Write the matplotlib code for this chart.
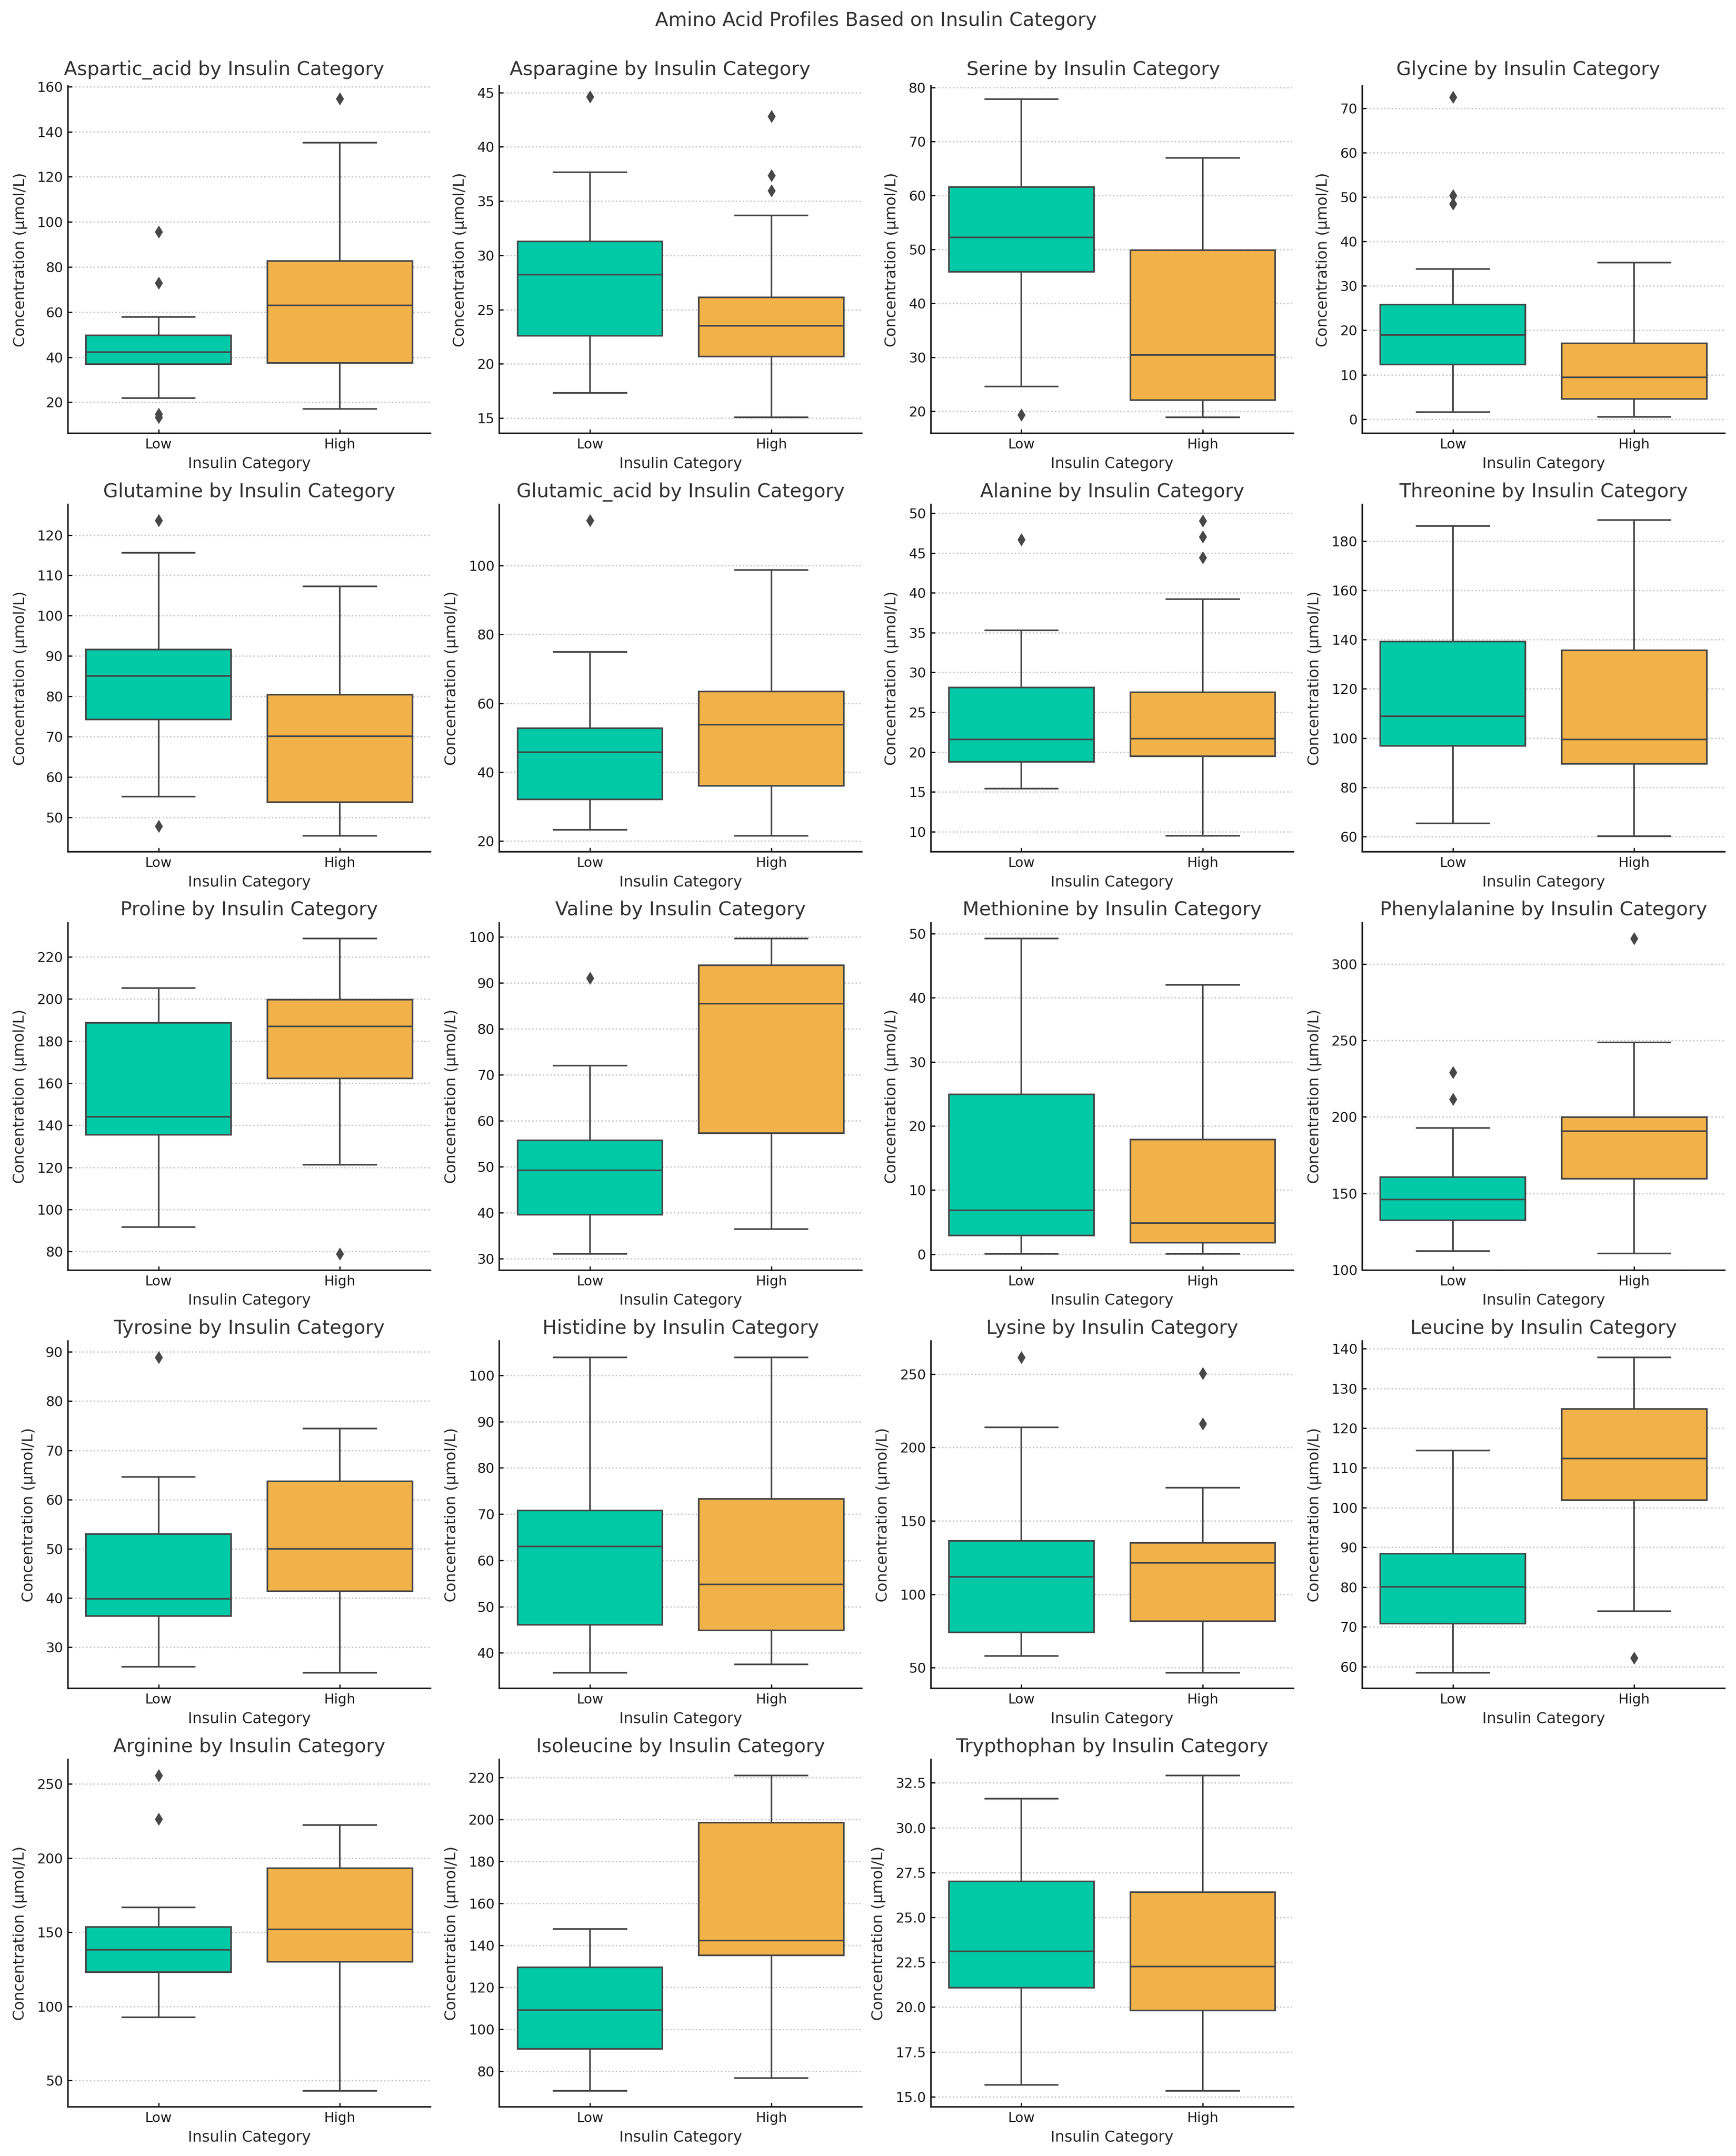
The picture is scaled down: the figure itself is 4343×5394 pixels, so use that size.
import matplotlib
matplotlib.use("Agg")
import matplotlib.pyplot as plt

# ---------------- data ----------------
categories = ["Low", "High"]
acids = ["Aspartic_acid", "Asparagine", "Serine", "Glycine",
         "Glutamine", "Glutamic_acid", "Alanine", "Threonine",
         "Proline", "Valine", "Methionine", "Phenylalanine",
         "Tyrosine", "Histidine", "Lysine", "Leucine",
         "Arginine", "Isoleucine", "Trypthophan"]

low_whislo = [21.9, 17.34, 24.6, 1.6, 55.1, 23.3, 15.4, 65.4, 91.7, 31.0,
              0.04, 112.3, 26.0, 35.7, 58.0, 58.5, 92.7, 70.6, 15.67]
low_q1 = [36.9, 22.59, 45.88, 12.3, 74.3, 32.1, 18.8, 96.8, 135.5, 39.6,
          2.93, 132.5, 36.3, 46.1, 74.0, 70.8, 123.1, 90.6, 21.09]
low_med = [42.3, 28.23, 52.2, 19.0, 85.1, 45.8, 21.6, 108.8, 144.0, 49.2,
           6.86, 146.0, 39.8, 63.0, 111.9, 80.1, 138.2, 109.1, 23.1]
low_q3 = [49.7, 31.28, 61.56, 25.8, 91.65, 52.8, 28.1, 139.3, 188.7, 55.7,
          24.9, 160.5, 53.0, 70.8, 136.4, 88.4, 153.6, 129.5, 27.0]
low_whishi = [57.8, 37.66, 77.9, 33.8, 115.6, 74.9, 35.3, 186.2, 205.1, 71.98,
              49.25, 192.8, 64.6, 103.9, 213.6, 114.4, 166.7, 147.8, 31.61]
low_fliers = [[95.7, 72.9, 14.7, 13.4], [44.6], [19.3], [72.5, 50.4, 48.5],
              [123.6, 47.8], [113.2], [46.7], [], [], [91.07],
              [], [229.2, 211.7], [88.9], [], [261.3], [],
              [255.6, 226.3], [], []]

high_whislo = [17.1, 15.08, 18.86, 0.47, 45.4, 21.5, 9.5, 60.2, 121.3, 36.4,
               0.04, 110.6, 24.8, 37.5, 46.5, 73.9, 42.9, 76.7, 15.33]
high_q1 = [37.5, 20.69, 22.05, 4.56, 53.7, 36.1, 19.5, 89.5, 162.2, 57.3,
           1.76, 159.5, 41.4, 44.9, 81.5, 101.9, 130.1, 135.2, 19.81]
high_med = [63.0, 23.5, 30.47, 9.4, 70.1, 53.8, 21.7, 99.4, 186.9, 85.5,
            4.85, 190.8, 49.95, 54.8, 121.3, 112.4, 151.9, 142.2, 22.27]
high_q3 = [82.6, 26.11, 49.84, 17.1, 80.4, 63.5, 27.5, 135.6, 199.7, 93.87,
           17.9, 199.8, 63.75, 73.3, 135.0, 124.8, 193.2, 198.4, 26.4]
high_whishi = [135.2, 33.67, 66.96, 35.2, 107.3, 98.75, 39.2, 188.6, 228.8, 99.7,
               42.0, 248.8, 74.4, 103.9, 172.5, 137.8, 222.2, 220.9, 32.92]
high_fliers = [[154.7], [42.8, 37.36, 35.95], [], [],
               [], [], [49.06, 47.04, 44.4], [], [78.9], [],
               [], [316.8], [], [], [250.5, 216.0], [62.2],
               [], [], []]

# y ranges as shown in the reference
y_lims = [(6.2, 160.3), (13.6, 45.6), (15.9, 80.3), (-3.2, 75.0),
          (41.45, 127.6), (16.9, 117.8), (7.5, 51.1), (53.8, 195.0),
          (71.2, 236.2), (27.5, 103.1), (-2.5, 51.7), (99.8, 327.0),
          (21.6, 92.2), (32.3, 107.4), (35.8, 272.4), (54.5, 141.9),
          (32.2, 266.5), (63.0, 228.5), (14.44, 33.8)]

colors = ["#00C9A7", "#F1B24A"]
line_c = "#474747"

# titles of the first row sit a bit left of centre and higher in the reference
top_row_title_x = [0.431, 0.443, 0.448, 0.458]

# ---------------- plot ----------------
fig, axes = plt.subplots(5, 4, figsize=(4343 / 247, 5394 / 247), dpi=247)
fig.subplots_adjust(left=0.0391, right=0.9936, bottom=0.0228, top=0.9601,
                    wspace=0.19, hspace=0.2045)

for i, acid in enumerate(acids):
    ax = axes.flat[i]
    stats = [
        dict(whislo=low_whislo[i], q1=low_q1[i], med=low_med[i], q3=low_q3[i],
             whishi=low_whishi[i], fliers=low_fliers[i]),
        dict(whislo=high_whislo[i], q1=high_q1[i], med=high_med[i], q3=high_q3[i],
             whishi=high_whishi[i], fliers=high_fliers[i]),
    ]
    bp = ax.bxp(stats, positions=[0, 1], widths=0.8, capwidths=0.4,
                patch_artist=True, showfliers=True,
                boxprops=dict(edgecolor=line_c, linewidth=1.2),
                whiskerprops=dict(color=line_c, linewidth=1.2),
                capprops=dict(color=line_c, linewidth=1.2),
                medianprops=dict(color=line_c, linewidth=1.2),
                flierprops=dict(marker="d", markerfacecolor=line_c,
                                markeredgecolor=line_c, markersize=5.5,
                                linestyle="none"))
    for patch, c in zip(bp["boxes"], colors):
        patch.set_facecolor(c)

    ax.set_xlim(-0.5, 1.5)
    ax.set_ylim(*y_lims[i])
    ax.set_xticks([0, 1], categories)
    if i < 4:
        ax.set_title(f"{acid} by Insulin Category", fontsize=14, color="#333333",
                     pad=8.0, x=top_row_title_x[i])
    else:
        ax.set_title(f"{acid} by Insulin Category", fontsize=14, color="#333333",
                     pad=5.3)
    ax.set_xlabel("Insulin Category", fontsize=11, color="#262626")
    ax.set_ylabel("Concentration (µmol/L)", fontsize=11, color="#262626",
                  labelpad=7)
    ax.tick_params(labelsize=10, direction="in", length=3, width=0.9,
                   labelcolor="#1a1a1a")
    ax.yaxis.grid(True, linestyle=":", color="#c4c4c4", linewidth=1)
    ax.set_axisbelow(True)
    ax.spines["top"].set_visible(False)
    ax.spines["right"].set_visible(False)
    for side in ["left", "bottom"]:
        ax.spines[side].set_linewidth(1.1)
        ax.spines[side].set_color("#1a1a1a")

fig.delaxes(axes.flat[19])

fig.suptitle("Amino Acid Profiles Based on Insulin Category", fontsize=14,
             x=0.5047, y=0.988, va="baseline", color="#333333")

fig.savefig("out.png", dpi=247)
